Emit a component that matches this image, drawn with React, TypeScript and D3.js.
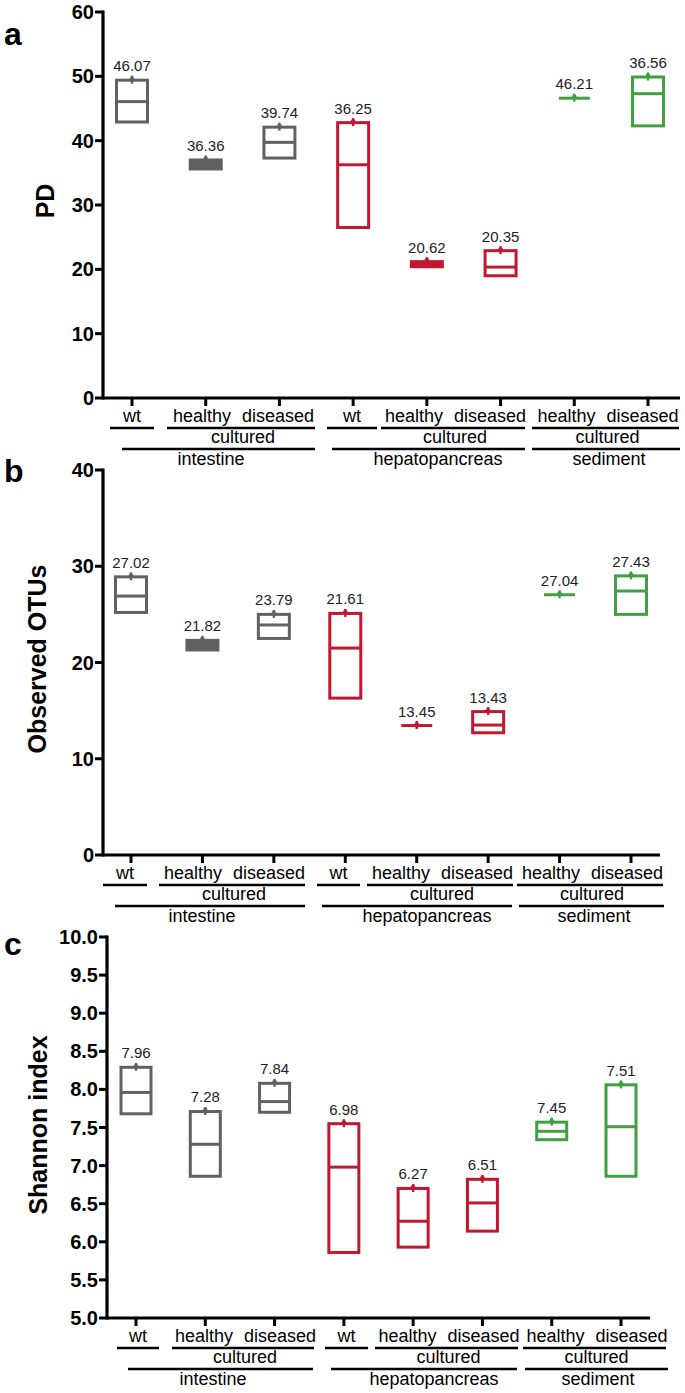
import React from "react";
import * as d3 from "d3";

// ---------- data ----------
const categories = ["wt", "healthy", "diseased", "wt", "healthy", "diseased", "healthy", "diseased"];
const categoryGroup = [0, 0, 0, 1, 1, 1, 2, 2];
const groups = ["intestine", "hepatopancreas", "sediment"];
const subGroupLabel = "cultured";
const groupColors = ["#616161", "#c0182f", "#41a041"];

// PD
const pdLow = [42.9, 35.6, 37.3, 26.5, 20.4, 19.0, 46.6, 42.3];
const pdMedian = [46.07, 36.36, 39.74, 36.25, 20.62, 20.35, 46.6, 47.3];
const pdHigh = [49.4, 37.0, 42.1, 42.8, 21.2, 22.9, 46.6, 49.9];
const pdLabels = ["46.07", "36.36", "39.74", "36.25", "20.62", "20.35", "46.21", "36.56"];
const pdTicks = [0, 10, 20, 30, 40, 50, 60];

// Observed OTUs
const otuLow = [25.2, 21.3, 22.5, 16.3, 13.45, 12.7, 27.04, 25.0];
const otuMedian = [26.9, 21.82, 23.9, 21.5, 13.45, 13.5, 27.04, 27.43];
const otuHigh = [28.9, 22.3, 25.0, 25.1, 13.45, 14.9, 27.04, 29.0];
const otuLabels = ["27.02", "21.82", "23.79", "21.61", "13.45", "13.43", "27.04", "27.43"];
const otuTicks = [0, 10, 20, 30, 40];

// Shannon index
const shLow = [7.68, 6.86, 7.7, 5.86, 5.93, 6.14, 7.34, 6.86];
const shMedian = [7.96, 7.28, 7.84, 6.98, 6.27, 6.51, 7.45, 7.51];
const shHigh = [8.29, 7.71, 8.08, 7.55, 6.7, 6.82, 7.57, 8.06];
const shLabels = ["7.96", "7.28", "7.84", "6.98", "6.27", "6.51", "7.45", "7.51"];
const shTicks = [5.0, 5.5, 6.0, 6.5, 7.0, 7.5, 8.0, 8.5, 9.0, 9.5, 10.0];

// segment structure of the category axis
const row1Segments = [[0], [1, 2], [3], [4, 5], [6, 7]];
const row2Segments = [[0, 1, 2], [3, 4, 5], [6, 7]];

// ---------- layout ----------
const FONT = "'Liberation Sans', Arial, Helvetica, sans-serif";

const panels = [
  {
    letter: "a", title: "PD", low: pdLow, med: pdMedian, high: pdHigh, labels: pdLabels,
    ticks: pdTicks, fmt: (d: number) => d3.format("d")(d), domain: [0, 60],
    axisX: 103, yTop: 12, yBottom: 398, xFirst: 132, xLast: 648, xEnd: 680, boxW: 31,
    letterY: 45, titleX: 45, titleY: 201,
    row1Lines: [[110, 154], [167, 315], [327, 377], [381, 525], [532, 679]],
    row2Lines: [[122, 315], [332, 525], [532, 680]],
    row3X: [211, 438, 609],
  },
  {
    letter: "b", title: "Observed OTUs", low: otuLow, med: otuMedian, high: otuHigh, labels: otuLabels,
    ticks: otuTicks, fmt: (d: number) => d3.format("d")(d), domain: [0, 40],
    axisX: 103, yTop: 470, yBottom: 855, xFirst: 131, xLast: 631, xEnd: 660, boxW: 31,
    letterY: 482, titleX: 37, titleY: 659,
    row1Lines: [[103, 147], [159, 305], [317, 360], [367, 513], [517, 663]],
    row2Lines: [[115, 305], [322, 512], [519, 664]],
    row3X: [202, 427, 594],
  },
  {
    letter: "c", title: "Shannon index", low: shLow, med: shMedian, high: shHigh, labels: shLabels,
    ticks: shTicks, fmt: (d: number) => d3.format(".1f")(d), domain: [5, 10],
    axisX: 107, yTop: 937, yBottom: 1318, xFirst: 136, xLast: 621, xEnd: 650, boxW: 30,
    letterY: 955, titleX: 38, titleY: 1125,
    row1Lines: [[117, 159], [172, 314], [325, 368], [375, 518], [523, 666]],
    row2Lines: [[128, 313], [331, 517], [525, 668]],
    row3X: [213, 434, 598],
  },
];

function Panel({ p }: { p: (typeof panels)[number] }) {
  const y = d3.scaleLinear().domain(p.domain).range([p.yBottom, p.yTop]);
  const x = d3
    .scalePoint<number>()
    .domain(categories.map((_, i) => i))
    .range([p.xFirst, p.xLast]);
  const y0 = p.yBottom;
  const lineW = 2.6;
  return (
    <g>
      {/* panel letter */}
      <text x={4} y={p.letterY} fontSize={32} fontWeight="bold" fontFamily={FONT}>
        {p.letter}
      </text>
      {/* y title */}
      <text
        transform={`translate(${p.titleX},${p.titleY}) rotate(-90)`}
        textAnchor="middle"
        dominantBaseline="central"
        fontSize={25}
        fontWeight="bold"
        fontFamily={FONT}
      >
        {p.title}
      </text>
      {/* y axis */}
      <line x1={p.axisX} x2={p.axisX} y1={p.yTop - 1.5} y2={y0 + 1.5} stroke="#000" strokeWidth={3.2} />
      {p.ticks.map((t) => (
        <g key={t}>
          <line x1={p.axisX - 8} x2={p.axisX} y1={y(t)} y2={y(t)} stroke="#000" strokeWidth={3} />
          <text
            x={p.axisX - 9}
            y={y(t)}
            textAnchor="end"
            dominantBaseline="central"
            fontSize={20}
            fontWeight="bold"
            fontFamily={FONT}
          >
            {p.fmt(t)}
          </text>
        </g>
      ))}
      {/* x axis */}
      <line x1={p.axisX} x2={p.xEnd} y1={y0} y2={y0} stroke="#000" strokeWidth={3.2} />
      {categories.map((_, i) => (
        <line key={i} x1={x(i)} x2={x(i)} y1={y0} y2={y0 + 8} stroke="#000" strokeWidth={3} />
      ))}
      {/* boxes */}
      {categories.map((_, i) => {
        const cx = x(i) as number;
        const col = groupColors[categoryGroup[i]];
        const yh = y(p.high[i]);
        const yl = y(p.low[i]);
        const ym = y(p.med[i]);
        const h = yl - yh;
        const w = p.boxW;
        return (
          <g key={i}>
            {h < 1 ? (
              <line x1={cx - w / 2} x2={cx + w / 2} y1={yh} y2={yh} stroke={col} strokeWidth={3} />
            ) : (
              <rect
                x={cx - w / 2}
                y={yh}
                width={w}
                height={h}
                fill={h < 12 ? col : "none"}
                stroke={col}
                strokeWidth={3}
              />
            )}
            {h >= 12 && (
              <line x1={cx - w / 2} x2={cx + w / 2} y1={ym} y2={ym} stroke={col} strokeWidth={3} />
            )}
            <line x1={cx} x2={cx} y1={yh - 4.5} y2={yh + 3.5} stroke={col} strokeWidth={2.4} />
            <circle cx={cx} cy={yh - 1} r={2.4} fill={col} />
            <text
              x={cx}
              y={yh - 9}
              textAnchor="middle"
              fontSize={15}
              fill="#222"
              fontFamily={FONT}
            >
              {p.labels[i]}
            </text>
          </g>
        );
      })}
      {/* category rows */}
      {row1Segments.map((seg, si) => {
        const [a, b] = p.row1Lines[si];
        const c = (a + b) / 2;
        return (
          <g key={"r1" + si}>
            <line x1={a} x2={b} y1={y0 + 30} y2={y0 + 30} stroke="#000" strokeWidth={lineW} />
            {seg.length === 1 ? (
              <text x={c} y={y0 + 24} textAnchor="middle" fontSize={18} fontFamily={FONT}>
                {categories[seg[0]]}
              </text>
            ) : (
              <>
                <text x={c - 10} y={y0 + 24} textAnchor="end" fontSize={18} fontFamily={FONT}>
                  {categories[seg[0]]}
                </text>
                <text x={c + 1} y={y0 + 24} textAnchor="start" fontSize={18} fontFamily={FONT}>
                  {categories[seg[1]]}
                </text>
                <text x={c + 2} y={y0 + 45} textAnchor="middle" fontSize={18} fontFamily={FONT}>
                  {subGroupLabel}
                </text>
              </>
            )}
          </g>
        );
      })}
      {row2Segments.map((seg, si) => {
        const [a, b] = p.row2Lines[si];
        return (
          <g key={"r2" + si}>
            <line x1={a} x2={b} y1={y0 + 51} y2={y0 + 51} stroke="#000" strokeWidth={lineW} />
            <text x={p.row3X[si]} y={y0 + 67} textAnchor="middle" fontSize={18} fontFamily={FONT}>
              {groups[categoryGroup[seg[0]]]}
            </text>
          </g>
        );
      })}
    </g>
  );
}

export default function App() {
  return (
    <svg
      width={685}
      height={1393}
      viewBox="0 0 685 1393"
      style={{ position: "absolute", left: 0, top: 0, background: "#fff" }}
    >
      <rect x={0} y={0} width={685} height={1393} fill="#fff" />
      {panels.map((p) => (
        <Panel key={p.letter} p={p} />
      ))}
    </svg>
  );
}
